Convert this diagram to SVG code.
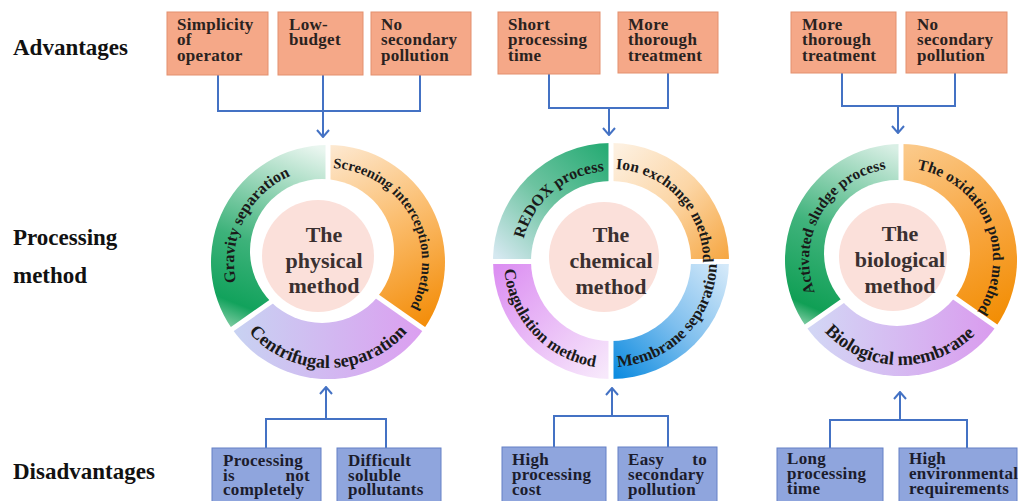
<svg xmlns="http://www.w3.org/2000/svg" width="1022" height="501" viewBox="0 0 1022 501">
<style>
.lbl{font-family:"Liberation Serif","Times New Roman",serif;font-weight:bold;font-size:23px;fill:#111}
.bt{font-family:"Liberation Serif","Times New Roman",serif;font-weight:bold;font-size:17px;fill:#2a2220;letter-spacing:0.3px}
.bb{font-family:"Liberation Serif","Times New Roman",serif;font-weight:bold;font-size:17px;fill:#1c1c2c;letter-spacing:0.3px}
.adv{fill:#f5a888;stroke:#e3906e;stroke-width:1}
.dis{fill:#8fa5dd;stroke:#6580c6;stroke-width:1}
.ctr{font-family:"Liberation Serif","Times New Roman",serif;font-weight:bold;font-size:22px;fill:#3a3030;text-anchor:middle}
.arc{font-family:"Liberation Serif","Times New Roman",serif;font-weight:bold;fill:#1a1a1a;text-anchor:middle}
.con{fill:none;stroke:#4472c4;stroke-width:2}
.gap{stroke:#fff;stroke-width:5}
.hole{fill:#fff}
.core{fill:#fbe0da}
</style>
<defs>
<marker id="ah" viewBox="0 0 12 14" refX="11" refY="7" markerWidth="12" markerHeight="14" markerUnits="userSpaceOnUse" orient="auto">
<path d="M4,1 L11,7 L4,13" fill="none" stroke="#4472c4" stroke-width="2"/>
</marker>
<linearGradient id="gPg" gradientUnits="userSpaceOnUse" x1="245" y1="340" x2="320" y2="148">
<stop offset="0" stop-color="#9ad7b5"/><stop offset="0.15" stop-color="#12a25c"/><stop offset="0.45" stop-color="#3db27a"/><stop offset="1" stop-color="#eaf6f0"/>
</linearGradient>
<linearGradient id="gPo" gradientUnits="userSpaceOnUse" x1="330" y1="145" x2="425" y2="330">
<stop offset="0" stop-color="#fde9d2"/><stop offset="0.45" stop-color="#fbbf72"/><stop offset="1" stop-color="#f38b05"/>
</linearGradient>
<linearGradient id="gPp" gradientUnits="userSpaceOnUse" x1="235" y1="0" x2="425" y2="0">
<stop offset="0" stop-color="#c8d2f2"/><stop offset="1" stop-color="#dc9ef0"/>
</linearGradient>
<linearGradient id="gCg" gradientUnits="userSpaceOnUse" x1="605" y1="145" x2="498" y2="258">
<stop offset="0" stop-color="#27ab74"/><stop offset="0.5" stop-color="#6cc3a0"/><stop offset="1" stop-color="#d5e8f0"/>
</linearGradient>
<linearGradient id="gCo" gradientUnits="userSpaceOnUse" x1="615" y1="150" x2="725" y2="258">
<stop offset="0" stop-color="#fdf0e0"/><stop offset="0.5" stop-color="#fcd6a6"/><stop offset="1" stop-color="#f6a845"/>
</linearGradient>
<linearGradient id="gCb" gradientUnits="userSpaceOnUse" x1="725" y1="265" x2="615" y2="375">
<stop offset="0" stop-color="#d4e9f9"/><stop offset="0.5" stop-color="#7fbfee"/><stop offset="1" stop-color="#0e8ce0"/>
</linearGradient>
<linearGradient id="gCp" gradientUnits="userSpaceOnUse" x1="500" y1="265" x2="605" y2="375">
<stop offset="0" stop-color="#dc8ff2"/><stop offset="1" stop-color="#f7e8fb"/>
</linearGradient>
<linearGradient id="gBg" gradientUnits="userSpaceOnUse" x1="815" y1="335" x2="895" y2="148">
<stop offset="0" stop-color="#9dd8b8"/><stop offset="0.12" stop-color="#109f55"/><stop offset="0.5" stop-color="#40b37c"/><stop offset="1" stop-color="#d9efe5"/>
</linearGradient>
<linearGradient id="gBo" gradientUnits="userSpaceOnUse" x1="905" y1="150" x2="995" y2="330">
<stop offset="0" stop-color="#fbc989"/><stop offset="0.5" stop-color="#f8a640"/><stop offset="1" stop-color="#f28c00"/>
</linearGradient>
<linearGradient id="gBp" gradientUnits="userSpaceOnUse" x1="805" y1="0" x2="1000" y2="0">
<stop offset="0" stop-color="#d2d8f5"/><stop offset="1" stop-color="#da9aee"/>
</linearGradient>
<path id="p-grav" d="M259.25,326.11 A94,94 0 0 1 339.46,168.70"/>
<path id="p-scr" d="M313.30,169.16 A94,94 0 0 1 398.94,323.67"/>
<path id="p-cen" d="M228.39,298.25 A106,106 0 0 0 427.61,298.25"/>
<path id="c-red" d="M526.43,291.78 A90,90 0 0 1 656,183.06"/>
<path id="c-ion" d="M575.05,176.31 A92,92 0 0 1 692.97,302.77"/>
<path id="c-mem" d="M567.89,357.83 A106,106 0 0 0 706.27,214.53"/>
<path id="c-coa" d="M515.66,212.42 A107,107 0 0 0 652.80,359.49"/>
<path id="b-act" d="M830.52,319.13 A92,92 0 0 1 916.98,169.40"/>
<path id="b-oxi" d="M896.19,168.13 A92,92 0 0 1 963.74,327.29"/>
<path id="b-bio" d="M801.72,294.18 A105,105 0 0 0 999.03,297.63"/>
</defs>
<rect width="1022" height="501" fill="#fff"/>

<g id="row-labels">
<text class="lbl" x="13" y="55">Advantages</text>
<text class="lbl" x="13" y="245">Processing</text>
<text class="lbl" x="13" y="283">method</text>
<text class="lbl" x="13" y="479">Disadvantages</text>
</g>

<g id="connectors">
<path class="con" d="M218,75 V111 H420 V75"/>
<path class="con" d="M323,75 V137" marker-end="url(#ah)"/>
<path class="con" d="M549,74 V108 H668 V73"/>
<path class="con" d="M609,108 V135" marker-end="url(#ah)"/>
<path class="con" d="M842,73 V106 H955 V73"/>
<path class="con" d="M898,106 V133" marker-end="url(#ah)"/>
<path class="con" d="M266,448 V419 H386 V448"/>
<path class="con" d="M326,419 V387" marker-end="url(#ah)"/>
<path class="con" d="M554,447 V416 H668 V447"/>
<path class="con" d="M612,416 V388" marker-end="url(#ah)"/>
<path class="con" d="M830,448 V420 H967 V448"/>
<path class="con" d="M900,420 V392" marker-end="url(#ah)"/>
</g>

<g id="adv-phys-1"><rect class="adv" x="167" y="12" width="101" height="63"/>
<text class="bt" x="177" y="29.5">Simplicity</text><text class="bt" x="177" y="45">of</text><text class="bt" x="177" y="60.5">operator</text></g>
<g id="adv-phys-2"><rect class="adv" x="278" y="12" width="85" height="63"/>
<text class="bt" x="289" y="29.5">Low-</text><text class="bt" x="289" y="45">budget</text></g>
<g id="adv-phys-3"><rect class="adv" x="371" y="12" width="100" height="63"/>
<text class="bt" x="381" y="29.5">No</text><text class="bt" x="381" y="45">secondary</text><text class="bt" x="381" y="60.5">pollution</text></g>
<g id="adv-chem-1"><rect class="adv" x="498" y="12" width="102" height="62"/>
<text class="bt" x="508" y="29.5">Short</text><text class="bt" x="508" y="45">processing</text><text class="bt" x="508" y="60.5">time</text></g>
<g id="adv-chem-2"><rect class="adv" x="618" y="12" width="100" height="61"/>
<text class="bt" x="628" y="29.5">More</text><text class="bt" x="628" y="45">thorough</text><text class="bt" x="628" y="60.5">treatment</text></g>
<g id="adv-bio-1"><rect class="adv" x="791" y="12" width="105" height="61"/>
<text class="bt" x="802" y="29.5">More</text><text class="bt" x="802" y="45">thorough</text><text class="bt" x="802" y="60.5">treatment</text></g>
<g id="adv-bio-2"><rect class="adv" x="906" y="12" width="101" height="61"/>
<text class="bt" x="917" y="29.5">No</text><text class="bt" x="917" y="45">secondary</text><text class="bt" x="917" y="60.5">pollution</text></g>

<g id="ring-physical">
<g id="seg-gravity"><path d="M328,262 L232.16,329.11 A117,117 0 0 1 328,145 Z" fill="url(#gPg)"/></g>
<g id="seg-screening"><path d="M328,262 L328,145 A117,117 0 0 1 423.84,329.11 Z" fill="url(#gPo)"/></g>
<g id="seg-centrifugal"><path d="M328,262 L423.84,329.11 A117,117 0 0 1 232.16,329.11 Z" fill="url(#gPp)"/></g>
<line class="gap" x1="328" y1="262" x2="328" y2="138"/>
<line class="gap" x1="328" y1="262" x2="430.4" y2="333.7"/>
<line class="gap" x1="328" y1="262" x2="225.6" y2="333.7"/>
<circle class="hole" cx="322" cy="251" r="72"/>
<circle class="core" cx="318" cy="256" r="56"/>
<text class="arc" font-size="16"><textPath href="#p-grav" startOffset="50%">Gravity separation</textPath></text>
<text class="arc" font-size="14.5"><textPath href="#p-scr" startOffset="50%">Screening interception method</textPath></text>
<text class="arc" font-size="18.5"><textPath href="#p-cen" startOffset="50%">Centrifugal separation</textPath></text>
<text class="ctr" x="324" y="242">The</text><text class="ctr" x="324" y="268">physical</text><text class="ctr" x="324" y="293">method</text>
</g>

<g id="ring-chemical">
<g id="seg-redox"><path d="M611,261 L493,261 A118,118 0 0 1 611,143 Z" fill="url(#gCg)"/></g>
<g id="seg-ion"><path d="M611,261 L611,143 A118,118 0 0 1 729,261 Z" fill="url(#gCo)"/></g>
<g id="seg-membrane"><path d="M611,261 L729,261 A118,118 0 0 1 611,379 Z" fill="url(#gCb)"/></g>
<g id="seg-coagulation"><path d="M611,261 L611,379 A118,118 0 0 1 493,261 Z" fill="url(#gCp)"/></g>
<line class="gap" x1="488" y1="261.5" x2="734" y2="261.5"/>
<line class="gap" x1="611" y1="138" x2="611" y2="384"/>
<circle class="hole" cx="611" cy="261" r="80"/>
<circle class="core" cx="604" cy="257" r="55"/>
<text class="arc" font-size="16"><textPath href="#c-red" startOffset="50%">REDOX process</textPath></text>
<text class="arc" font-size="15.5"><textPath href="#c-ion" startOffset="50%">Ion exchange method</textPath></text>
<text class="arc" font-size="16.5"><textPath href="#c-mem" startOffset="50%">Membrane separation</textPath></text>
<text class="arc" font-size="16.5"><textPath href="#c-coa" startOffset="50%">Coagulation method</textPath></text>
<text class="ctr" x="611" y="242">The</text><text class="ctr" x="611" y="268">chemical</text><text class="ctr" x="611" y="294">method</text>
</g>

<g id="ring-biological">
<g id="seg-activated"><path d="M901,260 L805.97,326.54 A116,116 0 0 1 901,144 Z" fill="url(#gBg)"/></g>
<g id="seg-oxidation"><path d="M901,260 L901,144 A116,116 0 0 1 996.03,326.54 Z" fill="url(#gBo)"/></g>
<g id="seg-biomembrane"><path d="M901,260 L996.03,326.54 A116,116 0 0 1 805.97,326.54 Z" fill="url(#gBp)"/></g>
<line class="gap" x1="901" y1="260" x2="901" y2="138"/>
<line class="gap" x1="901" y1="260" x2="1003" y2="331.5"/>
<line class="gap" x1="901" y1="260" x2="799" y2="331.5"/>
<circle class="hole" cx="897" cy="253" r="73"/>
<circle class="core" cx="893" cy="257" r="54"/>
<text class="arc" font-size="15.5"><textPath href="#b-act" startOffset="50%">Activated sludge process</textPath></text>
<text class="arc" font-size="15.5"><textPath href="#b-oxi" startOffset="50%">The oxidation pond method</textPath></text>
<text class="arc" font-size="18.5"><textPath href="#b-bio" startOffset="50%">Biological membrane</textPath></text>
<text class="ctr" x="900" y="241">The</text><text class="ctr" x="900" y="267">biological</text><text class="ctr" x="900" y="293">method</text>
</g>

<g id="dis-phys-1"><rect class="dis" x="212" y="448" width="109" height="60"/>
<text class="bb" x="223" y="466">Processing</text><text class="bb" x="223" y="480.5">is</text><text class="bb" x="310" y="480.5" text-anchor="end">not</text><text class="bb" x="223" y="495">completely</text></g>
<g id="dis-phys-2"><rect class="dis" x="337" y="448" width="104" height="60"/>
<text class="bb" x="348" y="466">Difficult</text><text class="bb" x="348" y="480.5">soluble</text><text class="bb" x="348" y="495">pollutants</text></g>
<g id="dis-chem-1"><rect class="dis" x="502" y="447" width="104" height="60"/>
<text class="bb" x="512" y="465">High</text><text class="bb" x="512" y="480">processing</text><text class="bb" x="512" y="495">cost</text></g>
<g id="dis-chem-2"><rect class="dis" x="618" y="447" width="99" height="60"/>
<text class="bb" x="628" y="465">Easy</text><text class="bb" x="707" y="465" text-anchor="end">to</text><text class="bb" x="628" y="480">secondary</text><text class="bb" x="628" y="495">pollution</text></g>
<g id="dis-bio-1"><rect class="dis" x="777" y="448" width="106" height="60"/>
<text class="bb" x="787" y="464">Long</text><text class="bb" x="787" y="479">processing</text><text class="bb" x="787" y="494">time</text></g>
<g id="dis-bio-2"><rect class="dis" x="899" y="448" width="118" height="60"/>
<text class="bb" x="909" y="464">High</text><text class="bb" x="909" y="479">environmental</text><text class="bb" x="909" y="494">requirements</text></g>
</svg>
